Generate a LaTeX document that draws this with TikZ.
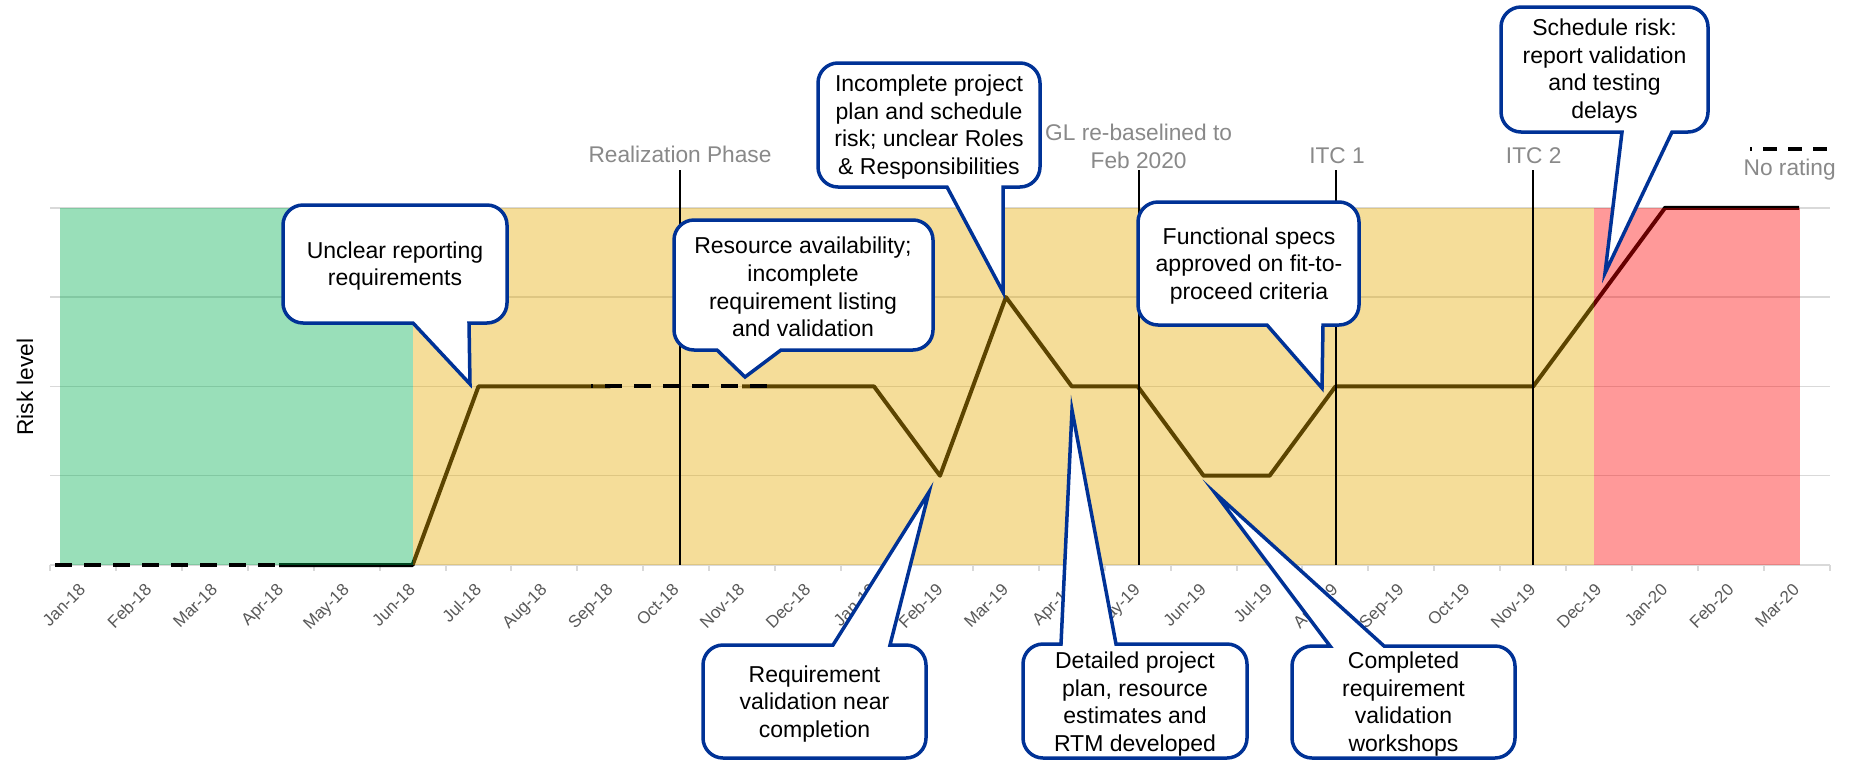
\documentclass[tikz,border=0pt]{standalone}
\usepackage{fontspec}
\setmainfont{Liberation Sans}
\definecolor{calloutblue}{RGB}{0,50,150}
\definecolor{gridgray}{RGB}{217,217,217}
\definecolor{labelgray}{RGB}{137,137,137}
\definecolor{monthgray}{RGB}{89,89,89}
\definecolor{bandgreen}{RGB}{0,176,80}
\definecolor{bandamber}{RGB}{230,170,0}
\definecolor{bandred}{RGB}{255,0,0}

% callout frame with the pointer on the lower edge:
% left, top, right, bottom, pointer base x1, pointer base x2, tip x, tip y
\newcommand\bubbledown[8]{%
  \draw[bubbleline] ({#1+20},#2) -- ({#3-20},#2)
    .. controls ({#3-9},#2) and (#3,{#2+9}) .. (#3,{#2+20})
    -- (#3,{#4-20})
    .. controls (#3,{#4-9}) and ({#3-9},#4) .. ({#3-20},#4)
    -- (#6,#4) -- (#7,#8) -- (#5,#4) -- ({#1+20},#4)
    .. controls ({#1+9},#4) and (#1,{#4-9}) .. (#1,{#4-20})
    -- (#1,{#2+20})
    .. controls (#1,{#2+9}) and ({#1+9},#2) .. ({#1+20},#2) -- cycle;}
% callout frame with the pointer on the upper edge
\newcommand\bubbleup[8]{%
  \draw[bubbleline] ({#1+20},#2) -- (#5,#2) -- (#7,#8) -- (#6,#2) -- ({#3-20},#2)
    .. controls ({#3-9},#2) and (#3,{#2+9}) .. (#3,{#2+20})
    -- (#3,{#4-20})
    .. controls (#3,{#4-9}) and ({#3-9},#4) .. ({#3-20},#4)
    -- ({#1+20},#4)
    .. controls ({#1+9},#4) and (#1,{#4-9}) .. (#1,{#4-20})
    -- (#1,{#2+20})
    .. controls (#1,{#2+9}) and ({#1+9},#2) .. ({#1+20},#2) -- cycle;}

\begin{document}
\begin{tikzpicture}[x=1pt,y=-1pt,
  gridline/.style={draw=gridgray, line width=1.5pt},
  axisline/.style={draw=gridgray, line width=2pt},
  riskline/.style={draw=black, line width=4pt, line join=round},
  norating/.style={draw=black, line width=4pt, dash pattern=on 17pt off 12pt},
  band/.style={fill opacity=0.4},
  milestone/.style={draw=black, line width=2pt},
  bubbleline/.style={draw=calloutblue, line width=3.5pt, fill=white, line join=miter, miter limit=20},
  bubbletext/.style={inner sep=0pt, align=center, font=\fontsize{23}{27.6}\selectfont},
  graylabel/.style={inner sep=0pt, anchor=base, text=labelgray, font=\fontsize{22.7}{28}\selectfont},
  monthlabel/.style={inner sep=0pt, rotate=45, anchor=north east, text=monthgray, font=\fontsize{17}{20}\selectfont}]

\fill[white] (0,0) rectangle (1852,761);
\useasboundingbox (0,0) rectangle (1852,761);

% horizontal grid and category axis
\foreach \lvl in {207.8,297.1,386.4,475.7}
  \draw[gridline] (50,\lvl) -- (1830,\lvl);
\draw[axisline] (50,565) -- (1830,565);
\foreach \j in {0,...,27}
  \draw[axisline] ({50+65.92*\j},565) -- ({50+65.92*\j},571);

% risk rating series (rated months)
\draw[riskline] (279,565) -- (412.6,565) -- (478.5,386.4) -- (610.4,386.4);
\draw[riskline] (742.2,386.4) -- (874,386.4) -- (940,475.7) -- (1005.9,297.1)
  -- (1071.8,386.4) -- (1137.7,386.4) -- (1203.6,475.7) -- (1269.6,475.7)
  -- (1335.5,386.4) -- (1533.2,386.4) -- (1665.1,207.8) -- (1799,207.8);

% rating bands
\fill[band, bandgreen] (60,207.8) rectangle (412.6,565);
\fill[band, bandamber] (412.6,207.8) rectangle (1594,565);
\fill[band, bandred] (1594,207.8) rectangle (1800,565);

% months without a rating
\draw[norating] (55,565) -- (279,565);
\draw[norating, dash phase=15pt] (591,386.4) -- (767,386.4);
\draw[norating, line width=3.5pt, dash pattern=on 14pt off 11pt, dash phase=12pt] (1750,149) -- (1827,149);

% milestones
\draw[milestone] (679.5,170) -- (679.5,565);
\draw[milestone] (1138.8,170) -- (1138.8,565);
\draw[milestone] (1336.4,170) -- (1336.4,565);
\draw[milestone] (1533,170) -- (1533,565);

\node[graylabel] (lblReal) at (680,162) {Realization Phase};
\node[graylabel] (lblGLa) at (1138.6,140) {GL re-baselined to};
\node[graylabel] (lblGLb) at (1138.6,168) {Feb 2020};
\node[graylabel] (lblITC1) at (1337,163) {ITC 1};
\node[graylabel] (lblITC2) at (1533.7,163) {ITC 2};
\node[graylabel] (lblNoRating) at (1789.7,175) {No rating};

% axis titles
\node[rotate=90, inner sep=0pt, font=\fontsize{22.7}{27}\selectfont] (ylabel) at (25,387) {Risk level};

\node[monthlabel] (m0) at (78.0,582) {Jan-18};
\node[monthlabel] (m1) at (143.9,582) {Feb-18};
\node[monthlabel] (m2) at (209.8,582) {Mar-18};
\node[monthlabel] (m3) at (275.8,582) {Apr-18};
\node[monthlabel] (m4) at (341.7,582) {May-18};
\node[monthlabel] (m5) at (407.6,582) {Jun-18};
\node[monthlabel] (m6) at (473.5,582) {Jul-18};
\node[monthlabel] (m7) at (539.4,582) {Aug-18};
\node[monthlabel] (m8) at (605.4,582) {Sep-18};
\node[monthlabel] (m9) at (671.3,582) {Oct-18};
\node[monthlabel] (m10) at (737.2,582) {Nov-18};
\node[monthlabel] (m11) at (803.1,582) {Dec-18};
\node[monthlabel] (m12) at (869.0,582) {Jan-19};
\node[monthlabel] (m13) at (935.0,582) {Feb-19};
\node[monthlabel] (m14) at (1000.9,582) {Mar-19};
\node[monthlabel] (m15) at (1066.8,582) {Apr-19};
\node[monthlabel] (m16) at (1132.7,582) {May-19};
\node[monthlabel] (m17) at (1198.6,582) {Jun-19};
\node[monthlabel] (m18) at (1264.6,582) {Jul-19};
\node[monthlabel] (m19) at (1330.5,582) {Aug-19};
\node[monthlabel] (m20) at (1396.4,582) {Sep-19};
\node[monthlabel] (m21) at (1462.3,582) {Oct-19};
\node[monthlabel] (m22) at (1528.2,582) {Nov-19};
\node[monthlabel] (m23) at (1594.2,582) {Dec-19};
\node[monthlabel] (m24) at (1660.1,582) {Jan-20};
\node[monthlabel] (m25) at (1726.0,582) {Feb-20};
\node[monthlabel] (m26) at (1791.9,582) {Mar-20};

% callouts
\bubbledown{283}{205}{507}{323}{413}{469}{470}{384}
\node[bubbletext] (b1) at (395,266) {Unclear reporting\\requirements};

\bubbledown{674}{220}{933}{350}{717}{781}{745}{377}
\node[bubbletext] (b2) at (803,287) {Resource availability;\\incomplete\\requirement listing\\and validation};

\bubbledown{818}{63}{1040}{187}{947}{1003}{1003}{292}
\node[bubbletext] (b3) at (929,127) {Incomplete project\\plan and schedule\\risk; unclear Roles\\\& Responsibilities};

\bubbledown{1138}{202}{1359}{325}{1267}{1323}{1322}{388}
\node[bubbletext] (b4) at (1249,266) {Functional specs\\approved on fit-to-\\proceed criteria};

\bubbledown{1501}{7}{1708}{132}{1622}{1672}{1605}{273}
\node[bubbletext] (b5) at (1604.5,71) {Schedule risk:\\report validation\\and testing\\delays};

\bubbleup{703}{645}{926}{758}{833}{890}{929}{492}
\node[bubbletext] (b6) at (814.5,704) {Requirement\\validation near\\completion};

\bubbleup{1023}{644}{1247}{758}{1061}{1116}{1072}{410}
\node[bubbletext] (b7) at (1135,704) {Detailed project\\plan, resource\\estimates and\\RTM developed};

\bubbleup{1292}{646}{1515}{758}{1330}{1384}{1215}{493}
\node[bubbletext] (b8) at (1403.5,704) {Completed\\requirement\\validation\\workshops};

\end{tikzpicture}
\end{document}
